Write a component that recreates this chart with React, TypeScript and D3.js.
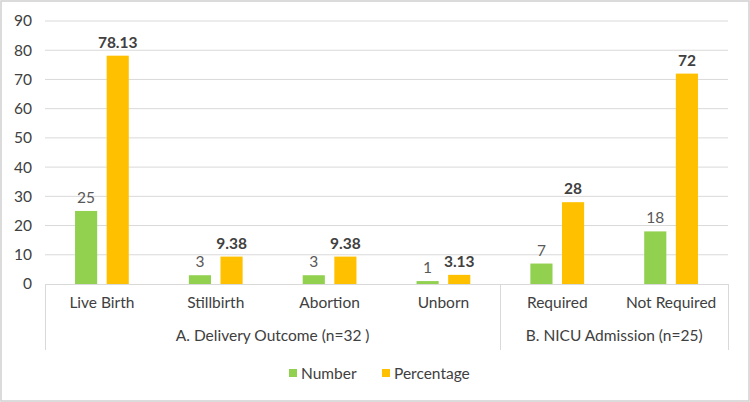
import React, { useEffect, useRef } from "react";
import * as d3 from "d3";

const categories = ["Live Birth", "Stillbirth", "Abortion", "Unborn", "Required", "Not Required"];
const groups = [
  { label: "A. Delivery Outcome (n=32 )", size: 4 },
  { label: "B. NICU Admission (n=25)", size: 2 },
];
const numberValues = [25, 3, 3, 1, 7, 18];
const percentValues = [78.13, 9.38, 9.38, 3.13, 28, 72];
const yTicks = [0, 10, 20, 30, 40, 50, 60, 70, 80, 90];

const GREEN = "#92D050";
const ORANGE = "#FFC000";
const FONT = "Lato, 'Open Sans', sans-serif";

const App = () => {
  const svgRef = useRef<SVGSVGElement>(null);

  useEffect(() => {
    document.body.style.margin = "0";
    const width = 750;
    const height = 402;
    const margin = { top: 21, right: 22, bottom: 118, left: 45 };

    const svg = d3.select(svgRef.current).attr("width", width).attr("height", height);
    svg.selectAll("*").remove();

    // chart border
    svg
      .append("rect")
      .attr("x", 1)
      .attr("y", 1)
      .attr("width", width - 2)
      .attr("height", height - 2)
      .attr("fill", "#fff")
      .attr("stroke", "#d0d0d0")
      .attr("stroke-width", 1.5);

    const x = d3
      .scaleBand()
      .domain(categories)
      .range([margin.left, width - margin.right]);

    const y = d3
      .scaleLinear()
      .domain([0, 90])
      .range([height - margin.bottom, margin.top]);

    const inner = d3.scaleBand().domain(["n", "p"]).range([0, x.bandwidth()]).paddingOuter(0.95).paddingInner(0.3);

    // horizontal grid
    svg
      .append("g")
      .selectAll("line")
      .data(yTicks.slice(1))
      .enter()
      .append("line")
      .attr("x1", margin.left)
      .attr("x2", width - margin.right)
      .attr("y1", (d) => y(d))
      .attr("y2", (d) => y(d))
      .attr("stroke", "#d9d9d9")
      .attr("stroke-width", 1);

    // y tick labels
    svg
      .append("g")
      .selectAll("text")
      .data(yTicks)
      .enter()
      .append("text")
      .attr("x", 32)
      .attr("y", (d) => y(d))
      .attr("dy", "0.35em")
      .attr("text-anchor", "end")
      .attr("font-family", FONT)
      .attr("font-size", 15.5)
      .attr("fill", "#404040")
      .text((d) => d);

    // bars
    const bars = svg.append("g");
    categories.forEach((c, i) => {
      const x0 = x(c)!;
      bars
        .append("rect")
        .attr("x", x0 + inner("n")!)
        .attr("y", y(numberValues[i]))
        .attr("width", inner.bandwidth())
        .attr("height", y(0) - y(numberValues[i]))
        .attr("fill", GREEN);
      bars
        .append("rect")
        .attr("x", x0 + inner("p")!)
        .attr("y", y(percentValues[i]))
        .attr("width", inner.bandwidth())
        .attr("height", y(0) - y(percentValues[i]))
        .attr("fill", ORANGE);
      bars
        .append("text")
        .attr("x", x0 + inner("n")! + inner.bandwidth() / 2)
        .attr("y", y(numberValues[i]) - 8)
        .attr("text-anchor", "middle")
        .attr("font-family", FONT)
        .attr("font-size", 15.5)
        .attr("fill", "#595959")
        .text(numberValues[i]);
      bars
        .append("text")
        .attr("x", x0 + inner("p")! + inner.bandwidth() / 2)
        .attr("y", y(percentValues[i]) - 8)
        .attr("text-anchor", "middle")
        .attr("font-family", FONT)
        .attr("font-size", 15.5)
        .attr("font-weight", "bold")
        .attr("fill", "#404040")
        .text(percentValues[i]);
    });

    // category axis (multi-level)
    const axisY = y(0);
    const axisBottom = 350;
    const ax = svg.append("g").attr("stroke", "#d9d9d9");
    ax.append("line")
      .attr("x1", margin.left)
      .attr("x2", width - margin.right)
      .attr("y1", axisY + 0.5)
      .attr("y2", axisY + 0.5);

    let start = 0;
    const boundaries = [margin.left];
    groups.forEach((g) => {
      start += g.size;
      const c = categories[start - 1];
      boundaries.push(x(c)! + x.bandwidth());
    });
    boundaries.forEach((bx) => {
      ax.append("line")
        .attr("x1", Math.round(bx) + 0.5)
        .attr("x2", Math.round(bx) + 0.5)
        .attr("y1", axisY)
        .attr("y2", axisBottom);
    });

    svg
      .append("g")
      .selectAll("text")
      .data(categories)
      .enter()
      .append("text")
      .attr("x", (d) => x(d)! + x.bandwidth() / 2)
      .attr("y", 308)
      .attr("text-anchor", "middle")
      .attr("font-family", FONT)
      .attr("font-size", 15.5)
      .attr("fill", "#404040")
      .text((d) => d);

    groups.forEach((g, i) => {
      svg
        .append("text")
        .attr("x", (boundaries[i] + boundaries[i + 1]) / 2)
        .attr("y", 341)
        .attr("text-anchor", "middle")
        .attr("font-family", FONT)
        .attr("font-size", 15.5)
        .attr("fill", "#404040")
        .text(g.label);
    });

    // legend
    const legendItems = [
      { label: "Number", color: GREEN, x: 289 },
      { label: "Percentage", color: ORANGE, x: 382 },
    ];
    const legend = svg.append("g");
    legendItems.forEach((it) => {
      legend
        .append("rect")
        .attr("x", it.x)
        .attr("y", 369)
        .attr("width", 8)
        .attr("height", 8)
        .attr("fill", it.color);
      legend
        .append("text")
        .attr("x", it.x + 12)
        .attr("y", 378.5)
        .attr("font-family", FONT)
        .attr("font-size", 15.5)
        .attr("fill", "#404040")
        .text(it.label);
    });
  }, []);

  return (
    <div>
      <svg ref={svgRef} style={{ display: "block" }}></svg>
    </div>
  );
};

export default App;
